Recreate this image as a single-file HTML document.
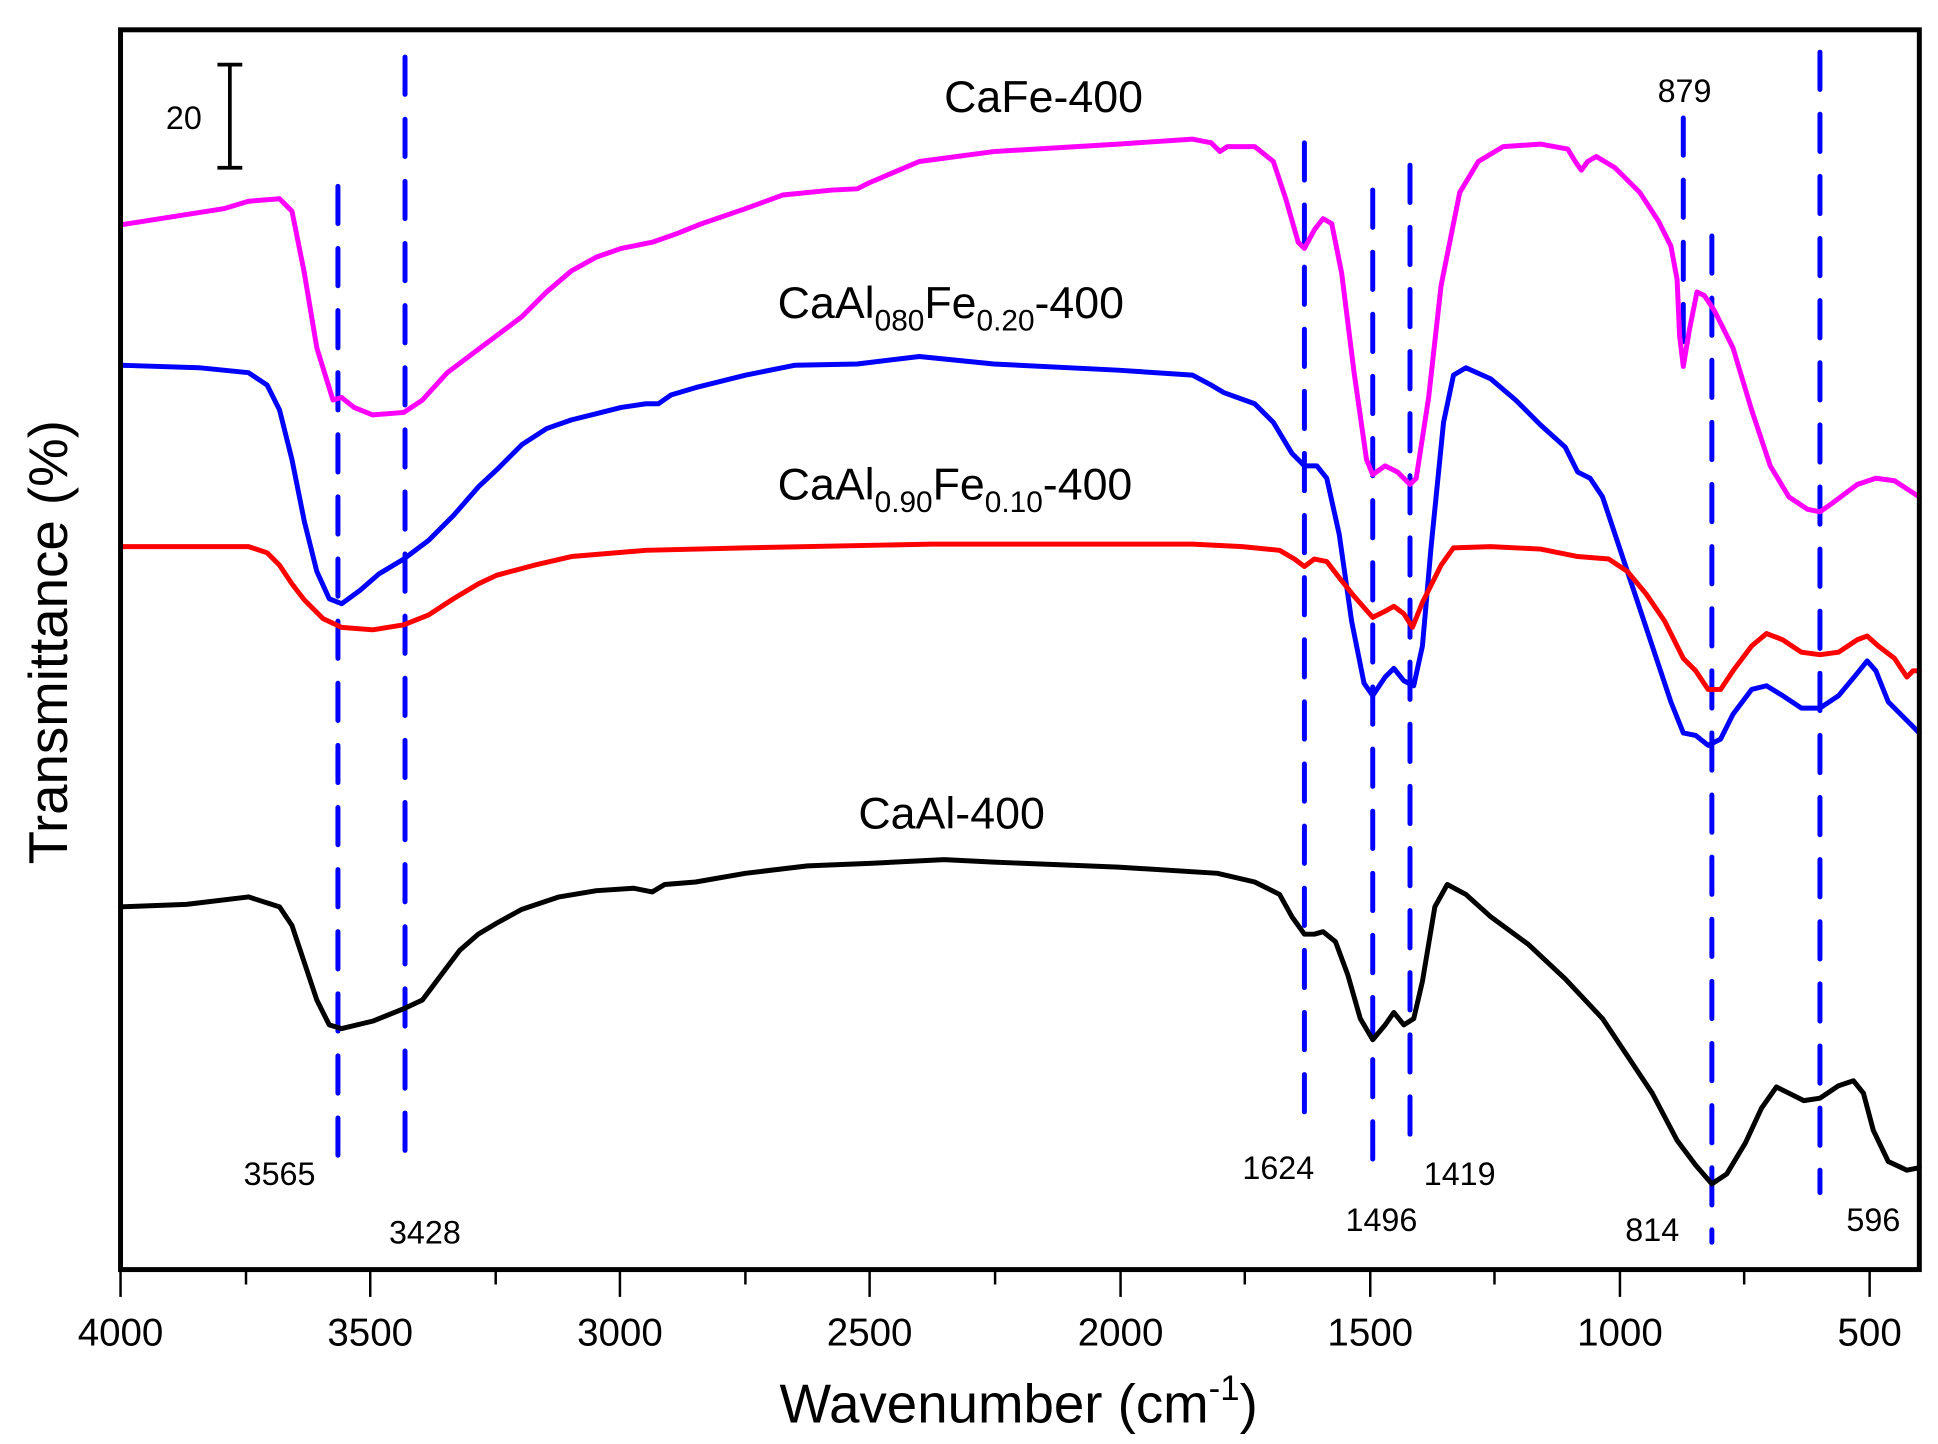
<!DOCTYPE html>
<html><head><meta charset="utf-8"><style>
html,body{margin:0;padding:0;background:#fff;}
svg{display:block;}
text{font-family:"Liberation Sans",Arial,sans-serif;fill:#000;}
</style></head><body>
<svg width="1938" height="1444" viewBox="0 0 1560 1162.4" xmlns="http://www.w3.org/2000/svg">
<rect width="1560" height="1163" fill="#fff"/>
<!-- dashed reference lines -->
<g stroke="#0000ff" stroke-width="4" stroke-dasharray="30,20" stroke-linecap="round" fill="none">
<line x1="272" y1="150" x2="272" y2="950"/>
<line x1="326" y1="46" x2="326" y2="945"/>
<line x1="1050" y1="115" x2="1050" y2="915"/>
<line x1="1105" y1="153" x2="1105" y2="950"/>
<line x1="1135" y1="133" x2="1135" y2="930"/>
<line x1="1355" y1="95" x2="1355" y2="295"/>
<line x1="1378" y1="190" x2="1378" y2="1000"/>
<line x1="1465" y1="42" x2="1465" y2="960"/>
</g>
<g fill="none" stroke-width="4" stroke-linejoin="round" stroke-linecap="round">
<polyline stroke="#ff00ff" points="97,181 180,168 200,162 225,160 235,170 245,220 255,280 268,322 275,320 285,328 300,334 325,332 340,322 360,300 380,285 400,270 420,255 440,235 460,218 480,207 500,200 525,195 545,188 565,180 600,168 630,157 670,153 690,152 700,147 740,130 800,122 900,116 960,112 975,115 982,122 988,118 1010,118 1025,130 1035,160 1045,195 1050,200 1058,185 1065,176 1072,180 1080,220 1090,300 1100,370 1105,382 1115,375 1125,380 1135,390 1140,385 1150,320 1160,230 1175,155 1190,130 1210,118 1240,116 1262,120 1268,130 1273,137 1278,130 1285,126 1300,135 1320,155 1335,178 1345,198 1350,225 1352,270 1355,295 1360,265 1366,235 1372,238 1380,250 1395,280 1410,330 1425,375 1440,400 1455,410 1465,412 1475,405 1495,390 1510,385 1525,387 1545,400"/>
<polyline stroke="#0000ff" points="97,294 160,296 200,300 215,310 225,330 235,370 245,420 255,460 265,482 275,486 290,475 305,462 325,450 345,435 365,415 385,392 400,378 420,358 440,345 460,338 480,333 500,328 520,325 530,325 540,318 560,312 600,302 640,294 690,293 740,287 800,293 900,298 960,302 975,310 985,316 1010,325 1025,340 1040,365 1050,375 1060,375 1068,385 1078,430 1088,500 1098,550 1105,560 1115,545 1122,538 1130,548 1138,552 1145,520 1152,440 1162,340 1170,302 1180,296 1200,305 1220,322 1240,342 1260,360 1270,380 1280,385 1290,400 1300,430 1315,475 1330,520 1345,565 1355,590 1365,592 1375,600 1385,595 1395,575 1410,555 1422,552 1435,560 1450,570 1465,570 1480,560 1495,542 1503,532 1510,540 1520,565 1535,580 1545,590"/>
<polyline stroke="#ff0000" points="97,440 200,440 215,445 225,455 235,470 245,483 260,498 275,505 300,507 325,503 345,495 365,482 385,470 400,463 430,455 460,448 520,443 600,441 750,438 900,438 960,438 1000,440 1030,443 1042,450 1050,456 1058,450 1068,452 1078,465 1090,480 1105,497 1115,492 1122,488 1130,494 1137,505 1145,485 1160,455 1170,441 1200,440 1240,442 1270,448 1295,450 1310,460 1325,478 1340,500 1355,530 1365,540 1375,555 1385,555 1395,540 1410,520 1422,510 1435,515 1450,525 1465,527 1480,525 1495,515 1503,512 1512,520 1525,530 1535,545 1540,540 1545,540"/>
<polyline stroke="#000" points="97,730 150,728 200,722 225,730 235,745 245,775 255,805 265,825 275,828 300,822 325,812 340,805 355,785 370,765 385,752 400,743 420,732 450,722 480,717 510,715 525,718 535,712 560,710 600,703 650,697 700,695 760,692 800,694 900,698 980,703 1010,710 1030,720 1040,738 1050,752 1058,752 1065,750 1075,758 1085,785 1095,820 1105,837 1115,825 1122,815 1130,825 1138,820 1145,790 1155,730 1165,712 1180,720 1200,738 1230,760 1260,788 1290,820 1310,850 1330,880 1350,918 1365,938 1378,953 1390,945 1405,920 1418,892 1430,875 1440,880 1452,886 1465,884 1480,874 1492,870 1500,880 1508,910 1520,935 1535,942 1545,940"/>
</g>
<!-- axes frame -->
<rect x="97" y="24" width="1448" height="998" fill="none" stroke="#000" stroke-width="4"/>
<g stroke="#000" stroke-width="2">
<line x1="97" y1="1022" x2="97" y2="1044"/><line x1="198" y1="1022" x2="198" y2="1034"/>
<line x1="298" y1="1022" x2="298" y2="1044"/><line x1="399" y1="1022" x2="399" y2="1034"/>
<line x1="499" y1="1022" x2="499" y2="1044"/><line x1="600" y1="1022" x2="600" y2="1034"/>
<line x1="700" y1="1022" x2="700" y2="1044"/><line x1="801" y1="1022" x2="801" y2="1034"/>
<line x1="902" y1="1022" x2="902" y2="1044"/><line x1="1002" y1="1022" x2="1002" y2="1034"/>
<line x1="1103" y1="1022" x2="1103" y2="1044"/><line x1="1203" y1="1022" x2="1203" y2="1034"/>
<line x1="1304" y1="1022" x2="1304" y2="1044"/><line x1="1404" y1="1022" x2="1404" y2="1034"/>
<line x1="1505" y1="1022" x2="1505" y2="1044"/>
</g>
<g font-size="31" text-anchor="middle">
<text x="97" y="1083">4000</text><text x="298" y="1083">3500</text><text x="499" y="1083">3000</text>
<text x="700" y="1083">2500</text><text x="902" y="1083">2000</text><text x="1103" y="1083">1500</text>
<text x="1304" y="1083">1000</text><text x="1505" y="1083">500</text>
</g>
<text x="820" y="1145" font-size="44" text-anchor="middle">Wavenumber (cm<tspan font-size="28" dy="-18">-1</tspan><tspan dy="18">)</tspan></text>
<text transform="translate(54,517) rotate(-90)" font-size="44" text-anchor="middle">Transmittance (%)</text>
<!-- scale bar -->
<g stroke="#000" stroke-width="3"><line x1="185" y1="52" x2="185" y2="135"/><line x1="175" y1="52" x2="195" y2="52"/><line x1="175" y1="135" x2="195" y2="135"/></g>
<text x="148" y="104" font-size="26" text-anchor="middle">20</text>
<!-- peak labels -->
<g font-size="26" text-anchor="middle">
<text x="225" y="954">3565</text><text x="342" y="1001">3428</text><text x="1029" y="949">1624</text>
<text x="1112" y="991">1496</text><text x="1175" y="954">1419</text><text x="1330" y="999">814</text>
<text x="1508" y="991">596</text><text x="1356" y="82">879</text>
</g>
<!-- series labels -->
<g font-size="36">
<text x="840" y="90" text-anchor="middle">CaFe-400</text>
<text x="626" y="256">CaAl<tspan font-size="24" dy="10">080</tspan><tspan dy="-10">Fe</tspan><tspan font-size="24" dy="10">0.20</tspan><tspan dy="-10">-400</tspan></text>
<text x="626" y="402">CaAl<tspan font-size="24" dy="10">0.90</tspan><tspan dy="-10">Fe</tspan><tspan font-size="24" dy="10">0.10</tspan><tspan dy="-10">-400</tspan></text>
<text x="766" y="667" text-anchor="middle">CaAl-400</text>
</g>
</svg>
</body></html>
